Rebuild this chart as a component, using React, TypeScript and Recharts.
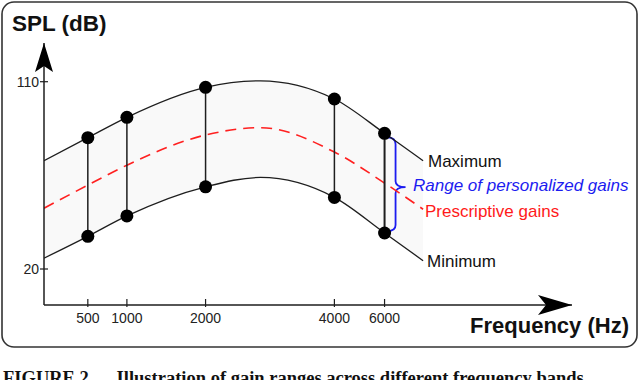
import { ComposedChart, Line, Area, Scatter, XAxis, YAxis, ReferenceLine, ReferenceDot, ReferenceArea } from 'recharts';

// schematic curves: x is a relative position along the frequency axis (0..100)
const curveX = [0, 8.3, 15.7, 30.6, 41, 55, 64.5, 71.8];
const maxGain = [72.0, 83.1, 92.9, 107.3, 110.4, 101.7, 85.2, 72.0];
const minGain = [25.2, 35.7, 45.5, 59.5, 64.0, 54.4, 37.3, 24.0];
const prescriptive = [49.2, 60.3, 69.9, 84.4, 87.9, 76.2, 61.3, 48.7];

// measured frequency bands
const bandLabels = ['500', '1000', '2000', '4000', '6000'];
const bandX = [8.3, 15.7, 30.6, 55, 64.5];
const bandMax = [83.1, 92.9, 107.3, 101.7, 85.2];
const bandMin = [35.7, 45.5, 59.5, 54.4, 37.3];

const yTicks = [20, 110];
const xDomain = [0, 100];
const yDomain = [2.7, 128.6];

const curveRows = curveX.map((x, i) => ({
  x,
  max: maxGain[i],
  min: minGain[i],
  presc: prescriptive[i],
  range: [minGain[i], maxGain[i]],
}));

const dotRows = bandX.flatMap((x, i) => [
  { x, y: bandMax[i] },
  { x, y: bandMin[i] },
]);

const INK = '#1e1e1e';
const FONT = "Arial, 'Liberation Sans', Helvetica, sans-serif";

const XTick = ({ x, y, payload }: any) => (
  <g>
    <line x1={x} x2={x} y1={y - 6} y2={y + 2} stroke={INK} strokeWidth={1.2} />
    <text x={x} y={y + 18} textAnchor="middle" fontSize={14} fill="#222" fontFamily={FONT}>
      {bandLabels[bandX.indexOf(payload.value)]}
    </text>
  </g>
);

const YTick = ({ x, y, payload }: any) => (
  <g>
    <line x1={x - 4} x2={x + 4} y1={y} y2={y} stroke={INK} strokeWidth={1.2} />
    <text x={x - 5} y={y + 5} textAnchor="end" fontSize={14} fill="#222" fontFamily={FONT}>
      {payload.value}
    </text>
  </g>
);

const ArrowUp = ({ cx, cy }: any) => (
  <path d={`M${cx},${cy} L${cx + 9},${cy + 29} L${cx},${cy + 23} L${cx - 9},${cy + 29} Z`} fill="#000" />
);

const ArrowRight = ({ cx, cy }: any) => (
  <path d={`M${cx},${cy} L${cx - 34},${cy - 10} L${cx - 26},${cy} L${cx - 34},${cy + 10} Z`} fill="#000" />
);

const Dot = ({ cx, cy }: any) => <circle cx={cx} cy={cy} r={6.5} fill="#000" />;

const Brace = ({ x, y, height }: any) => {
  const top = y + 4;
  const bot = y + height - 2;
  const m = y + height / 2 + 4;
  const v = x + 11;
  const d = `M${x + 3},${top} Q${v},${top} ${v},${top + 7} L${v},${m - 6} Q${v},${m} ${x + 21},${m}` +
    ` Q${v},${m} ${v},${m + 6} L${v},${bot - 6} Q${v},${bot} ${x + 3},${bot}`;
  return <path d={d} fill="none" stroke="#1c1cf0" strokeWidth={1.8} />;
};

export default function App() {
  return (
    <div style={{ position: 'absolute', left: 0, top: 0, width: 640, height: 380, background: '#fff', overflow: 'hidden' }}>
      <ComposedChart
        width={640}
        height={380}
        data={curveRows}
        margin={{ top: 43, right: 68, bottom: 45, left: 0 }}
      >
        <XAxis
          dataKey="x"
          type="number"
          domain={xDomain}
          ticks={bandX}
          tick={<XTick />}
          tickLine={false}
          tickSize={0}
          tickMargin={0}
          height={30}
          axisLine={{ stroke: INK, strokeWidth: 1.5 }}
          allowDataOverflow
        />
        <YAxis
          type="number"
          domain={yDomain}
          ticks={yTicks}
          tick={<YTick />}
          tickLine={false}
          tickSize={0}
          tickMargin={0}
          width={44}
          axisLine={{ stroke: INK, strokeWidth: 1.5 }}
          allowDataOverflow
        />
        <Area
          type="monotone"
          dataKey="range"
          stroke="none"
          fill="#f9f9f9"
          fillOpacity={1}
          isAnimationActive={false}
        />
        <Line type="monotone" dataKey="max" stroke={INK} strokeWidth={1.3} dot={false} isAnimationActive={false} />
        <Line type="monotone" dataKey="min" stroke={INK} strokeWidth={1.3} dot={false} isAnimationActive={false} />
        <Line
          type="monotone"
          dataKey="presc"
          stroke="#ff2020"
          strokeWidth={1.6}
          strokeDasharray="11 7"
          dot={false}
          isAnimationActive={false}
        />
        {bandX.map((x, i) => (
          <ReferenceLine
            key={bandLabels[i]}
            segment={[{ x, y: bandMin[i] }, { x, y: bandMax[i] }]}
            stroke={INK}
            strokeWidth={i === 4 ? 2 : 1.5}
            ifOverflow="visible"
          />
        ))}
        <ReferenceArea
          x1={bandX[4]}
          x2={bandX[4] + 1}
          y1={bandMin[4]}
          y2={bandMax[4]}
          shape={<Brace />}
          ifOverflow="visible"
        />
        <Scatter data={dotRows} dataKey="y" shape={<Dot />} isAnimationActive={false} />
        <ReferenceDot x={xDomain[0]} y={yDomain[1]} shape={<ArrowUp />} ifOverflow="visible" />
        <ReferenceDot x={xDomain[1]} y={yDomain[0]} shape={<ArrowRight />} ifOverflow="visible" />
      </ComposedChart>
      <svg
        width={640}
        height={380}
        style={{ position: 'absolute', left: 0, top: 0, pointerEvents: 'none' }}
        fontFamily={FONT}
      >
        <rect x={2} y={2} width={635} height={345} rx={12} fill="none" stroke="#333" strokeWidth={1.6} />
        <text x={12} y={31} fontSize={22.5} fontWeight="bold" fill="#111">SPL (dB)</text>
        <text x={629} y={333} fontSize={22} fontWeight="bold" fill="#111" textAnchor="end">Frequency (Hz)</text>
        <text x={428} y={167} fontSize={17} fill="#111">Maximum</text>
        <text x={413} y={191} fontSize={17} fontStyle="italic" fill="#1c1cf0">Range of personalized gains</text>
        <text x={425} y={217} fontSize={17} fill="#ff1a1a">Prescriptive gains</text>
        <text x={427} y={267} fontSize={17} fill="#111">Minimum</text>
        <text
          x={3}
          y={384}
          fontSize={18.5}
          fontWeight="bold"
          fill="#111"
          fontFamily="'Liberation Serif', 'Times New Roman', serif"
        >
          FIGURE 2{'\u00a0\u00a0\u00a0\u00a0\u00a0\u00a0'}Illustration of gain ranges across different frequency bands
        </text>
      </svg>
    </div>
  );
}
